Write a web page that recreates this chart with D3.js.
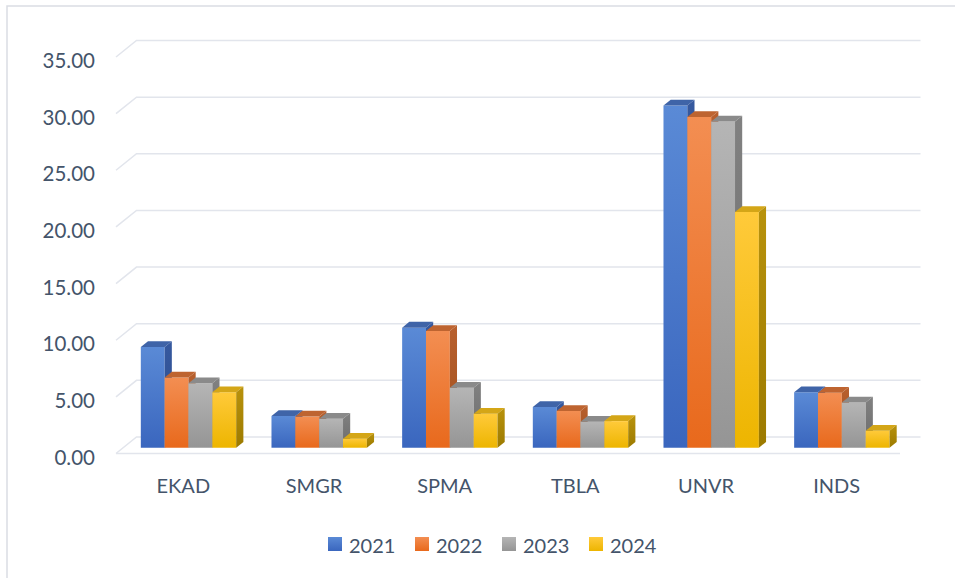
<!DOCTYPE html>
<html>
<head>
<meta charset="utf-8">
<script src="https://cdn.jsdelivr.net/npm/d3@7"></script>
<style>
  body { margin: 0; background: #fff; }
  text { font-family: Lato, "Open Sans", sans-serif; fill: #44546A; }
</style>
</head>
<body>
<svg id="svg" width="955" height="578"></svg>
<script>
// data
var categories = ["EKAD", "SMGR", "SPMA", "TBLA", "UNVR", "INDS"];
var years = ["2021", "2022", "2023", "2024"];
var v2021 = [8.9, 2.8, 10.6, 3.6, 30.2, 4.9];
var v2022 = [6.2, 2.75, 10.3, 3.25, 29.2, 4.85];
var v2023 = [5.7, 2.55, 5.3, 2.3, 28.8, 4.0];
var v2024 = [4.9, 0.8, 3.0, 2.35, 20.8, 1.5];
var yTicks = [0, 5, 10, 15, 20, 25, 30, 35];

var series = [v2021, v2022, v2023, v2024];

// colours per series: front gradient, side gradient, top
var palette = [
  { front: ["#5A8AD6", "#3A66BE"], side: ["#36599F", "#2A4A8A"], top: "#3F64A8" },
  { front: ["#F38E52", "#E8691C"], side: ["#B8602E", "#A04F1C"], top: "#BE6430" },
  { front: ["#B5B5B5", "#959595"], side: ["#818181", "#6B6B6B"], top: "#8A8A8A" },
  { front: ["#FFCA3A", "#EDB500"], side: ["#B8920C", "#9C7A00"], top: "#D4A617" }
];

var svg = d3.select("#svg");

// oblique depth offset
var DX = 20.5, DY = 16.5;
var t0 = 0.35, t1 = 0.7;

var x = d3.scaleBand().domain(categories).range([116, 900])
    .paddingInner(0.27).paddingOuter(0.135);
var xs = d3.scaleBand().domain(years).range([0, x.bandwidth()]);
var y = d3.scaleLinear().domain([0, 35]).range([453.5, 57]);

function p(px, v, t) { return [px + t * DX, y(v) - t * DY]; }
function poly(pts) { return pts.map(function (d) { return d.join(","); }).join(" "); }

var defs = svg.append("defs");
palette.forEach(function (c, i) {
  ["front", "side"].forEach(function (k) {
    var g = defs.append("linearGradient").attr("id", k + i)
        .attr("x1", 0).attr("y1", 0).attr("x2", 0).attr("y2", 1);
    g.append("stop").attr("offset", "0%").attr("stop-color", c[k][0]);
    g.append("stop").attr("offset", "100%").attr("stop-color", c[k][1]);
  });
});

// chart border
svg.append("rect")
    .attr("x", 7).attr("y", 6).attr("width", 960).attr("height", 600)
    .attr("fill", "none").attr("stroke", "#DADDE3").attr("stroke-width", 1.5);

// gridlines (left diagonal + back wall)
var grid = svg.append("g").attr("fill", "none")
    .attr("stroke", "#E2E5EC").attr("stroke-width", 1.5);
yTicks.forEach(function (v) {
  var a = p(116, v, 0), b = p(116, v, 1), c = p(900, v, 1);
  grid.append("path").attr("d", "M" + a + "L" + b + "L" + c);
});
// floor front edge
grid.append("path").attr("d", "M" + p(116, 0, 0) + "L" + p(900, 0, 0));

// y labels
svg.append("g").selectAll("text").data(yTicks).enter().append("text")
    .attr("x", 95).attr("y", function (d) { return y(d) + 3; })
    .attr("text-anchor", "end").attr("dominant-baseline", "central")
    .attr("font-size", 20.5)
    .text(function (d) { return d3.format(".2f")(d); });

// bars, left to right
var bars = svg.append("g");
categories.forEach(function (cat, ci) {
  years.forEach(function (yr, si) {
    var v = series[si][ci];
    var bx = x(cat) + xs(yr), w = xs.bandwidth();
    var g = bars.append("g");
    g.append("polygon").attr("fill", "url(#front" + si + ")")
        .attr("points", poly([p(bx, 0, t0), p(bx + w, 0, t0), p(bx + w, v, t0), p(bx, v, t0)]));
    g.append("polygon").attr("fill", palette[si].top)
        .attr("points", poly([p(bx, v, t0), p(bx + w, v, t0), p(bx + w, v, t1), p(bx, v, t1)]));
    g.append("polygon").attr("fill", "url(#side" + si + ")")
        .attr("points", poly([p(bx + w, 0, t0), p(bx + w, 0, t1), p(bx + w, v, t1), p(bx + w, v, t0)]));
  });
});

// category labels
svg.append("g").selectAll("text").data(categories).enter().append("text")
    .attr("x", function (d) { return x(d) + x.bandwidth() / 2 + 2; })
    .attr("y", 485)
    .attr("text-anchor", "middle").attr("dominant-baseline", "central")
    .attr("font-size", 20)
    .text(function (d) { return d; });

// legend
var legend = svg.append("g").selectAll("g").data(years).enter().append("g")
    .attr("transform", function (d, i) { return "translate(" + (328 + i * 87) + ",537)"; });
legend.append("rect").attr("width", 14).attr("height", 14)
    .attr("fill", function (d, i) { return "url(#front" + i + ")"; });
legend.append("text").attr("x", 21).attr("y", 7.5)
    .attr("dominant-baseline", "central").attr("font-size", 20)
    .text(function (d) { return d; });
</script>
</body>
</html>
